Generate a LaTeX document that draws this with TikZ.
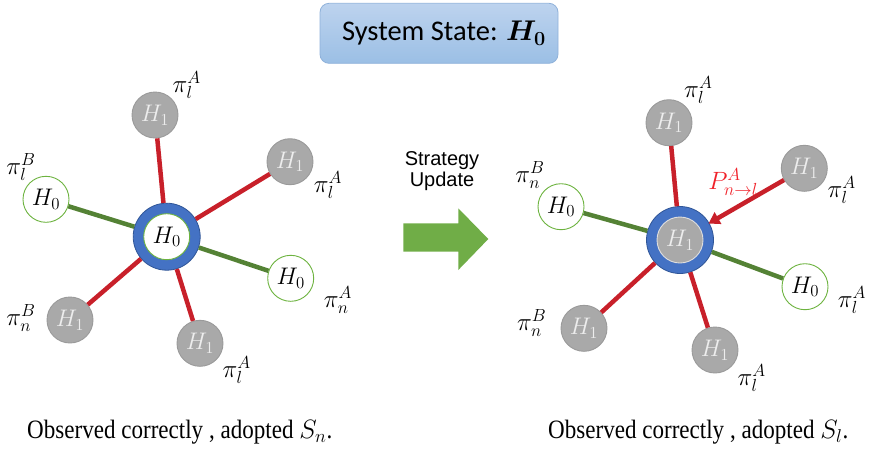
\RequirePackage{fix-cm}
\documentclass[tikz,border=0pt]{standalone}
\usepackage{fontspec}
\usepackage{bm}
\setmainfont{Liberation Serif}
\newfontfamily\titlefont{Carlito}
\newfontfamily\arialfont{Liberation Sans}
\newfontfamily\capfont[FakeStretch=0.87]{Liberation Serif}
\usetikzlibrary{arrows.meta}
\definecolor{nodegray}{HTML}{A9A9A9}
\definecolor{graydraw}{HTML}{9A9A9A}
\definecolor{hwhite}{HTML}{EDEDED}
\definecolor{hgreen}{HTML}{6DB33F}
\definecolor{linered}{HTML}{C8202A}
\definecolor{linegreen}{HTML}{548235}
\definecolor{ringblue}{HTML}{4472C4}
\definecolor{ringdraw}{HTML}{2F5597}
\definecolor{arrowgreen}{HTML}{70AD47}
\definecolor{boxtop}{HTML}{BDD3EE}
\definecolor{boxbot}{HTML}{9BBFE5}
\definecolor{boxdraw}{HTML}{8FB1DA}
\definecolor{pred}{HTML}{F0222A}
\newcommand\nodefs{\fontsize{24}{27}\selectfont}
\newcommand\labfs{\fontsize{25}{28}\selectfont}
\begin{document}
\begin{tikzpicture}[x=1pt,y=-1pt,
  leaf/.style={circle, minimum size=46pt, inner sep=0pt, line width=0.9pt, font=\nodefs},
  hone/.style={leaf, fill=nodegray, draw=graydraw, text=hwhite},
  hzero/.style={leaf, fill=white, draw=hgreen},
  ring/.style={circle, minimum size=67pt, inner sep=0pt, fill=ringblue, draw=ringdraw, line width=0.8pt},
  redline/.style={draw=linered, line width=4.5pt},
  greenline/.style={draw=linegreen, line width=4.5pt},
  lab/.style={font=\labfs, inner sep=0pt},
  captxt/.style={font=\capfont\fontsize{26.5}{30}\selectfont, anchor=west, inner sep=0pt}]
\useasboundingbox (0,0) rectangle (869,448);

% title
\node[draw=boxdraw, line width=0.8pt, rounded corners=9pt, top color=boxtop, bottom color=boxbot,
  minimum width=238pt, minimum height=60pt] (titlebox) at (439,33.3) {};
\node[font=\titlefont\fontsize{28.5}{32}\selectfont, inner sep=0pt] (title) at (444,33.3) {System State: $\bm{H_0}$};

% ---------- left star ----------
\node[ring] (lc) at (166.7,236.7) {};
\node[hzero] (lci) at (166.7,236.7) {$H_0$};
\node[hone] (l1) at (155,115) {$H_1$};
\node[hone] (l2) at (290,161.7) {$H_1$};
\node[hzero] (l3) at (46,199.3) {$H_0$};
\node[hzero] (l4) at (290.7,278.3) {$H_0$};
\node[hone] (l5) at (70,320) {$H_1$};
\node[hone] (l6) at (200,343.3) {$H_1$};
\draw[redline] (lc) -- (l1);
\draw[redline] (lc) -- (l2);
\draw[greenline] (lc) -- (l3);
\draw[greenline] (lc) -- (l4);
\draw[redline] (lc) -- (l5);
\draw[redline] (lc) -- (l6);
\node[lab] (ll1) at (186.7,85) {$\pi_l^A$};
\node[lab] (ll3) at (21,166.7) {$\pi_l^B$};
\node[lab] (ll2) at (328,185) {$\pi_l^A$};
\node[lab] (ll4) at (338,300) {$\pi_n^A$};
\node[lab] (ll5) at (21,318) {$\pi_n^B$};
\node[lab] (ll6) at (236.7,370) {$\pi_l^A$};

% ---------- middle ----------
\node[font=\arialfont\fontsize{20}{24}\selectfont, align=center] (su) at (442,171.5) {Strategy\\[-3pt]Update};
\fill[arrowgreen] (403.3,223.3) -- (458.3,223.3) -- (458.3,208.3) -- (488.3,239) -- (458.3,270) -- (458.3,251.7) -- (403.3,251.7) -- cycle;

% ---------- right star ----------
\node[ring] (rc) at (680,240) {};
\node[hone, draw=hwhite!80!nodegray] (rci) at (680,240) {$H_1$};
\node[hone] (r1) at (669,122.7) {$H_1$};
\node[hone] (r2) at (804.3,168.3) {$H_1$};
\node[hzero] (r3) at (561,206.7) {$H_0$};
\node[hzero] (r4) at (805,286.7) {$H_0$};
\node[hone] (r5) at (584,328.3) {$H_1$};
\node[hone] (r6) at (715,350) {$H_1$};
\draw[redline] (rc) -- (r1);
\draw[redline, -{Triangle[length=11pt,width=13pt]}, shorten >=-1pt] (r2) -- (rc);
\draw[greenline] (rc) -- (r3);
\draw[greenline] (rc) -- (r4);
\draw[redline] (rc) -- (r5);
\draw[redline] (rc) -- (r6);
\node[lab] (rl1) at (698.3,90) {$\pi_l^A$};
\node[lab] (rl3) at (530,175) {$\pi_n^B$};
\node[lab, text=pred] (rp) at (733,182) {$P_{n\to l}^A$};
\node[lab] (rl2) at (841.7,190) {$\pi_l^A$};
\node[lab] (rl4) at (852,300) {$\pi_l^A$};
\node[lab] (rl5) at (531.7,323.3) {$\pi_n^B$};
\node[lab] (rl6) at (751.7,378) {$\pi_l^A$};

% captions
\node[captxt] (cap1) at (27,432) {Observed correctly , adopted $S_n$.};
\node[captxt] (cap2) at (548,432) {Observed correctly , adopted $S_l$.};
\end{tikzpicture}
\end{document}
